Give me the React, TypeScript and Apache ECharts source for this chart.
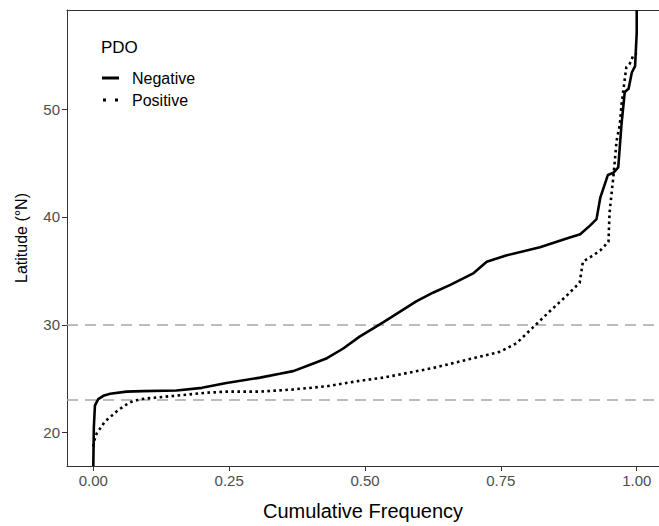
import React, { useEffect, useRef } from "react";
import * as echarts from "echarts";

const negX = [0, 0.001, 0.003, 0.009, 0.02, 0.031, 0.061, 0.091, 0.153, 0.2, 0.245, 0.307, 0.343, 0.368, 0.399, 0.43, 0.46, 0.49, 0.503, 0.534, 0.595, 0.626, 0.657, 0.7, 0.724, 0.761, 0.822, 0.871, 0.896, 0.914, 0.926, 0.933, 0.947, 0.957, 0.966, 0.972, 0.978, 0.985, 0.991, 0.997, 1.0, 1.0];
const negLat = [16.9, 20.5, 22.5, 23.1, 23.45, 23.6, 23.8, 23.85, 23.9, 24.15, 24.6, 25.1, 25.45, 25.7, 26.3, 26.9, 27.8, 28.9, 29.3, 30.25, 32.2, 33.0, 33.7, 34.8, 35.85, 36.45, 37.2, 38.0, 38.4, 39.2, 39.8, 41.8, 43.9, 44.1, 44.6, 48.6, 51.6, 51.9, 53.4, 54.0, 57.1, 59.2];

const posX = [0, 0.002, 0.006, 0.021, 0.046, 0.067, 0.086, 0.147, 0.209, 0.245, 0.307, 0.368, 0.43, 0.49, 0.534, 0.626, 0.687, 0.749, 0.779, 0.81, 0.841, 0.871, 0.895, 0.901, 0.92, 0.933, 0.948, 0.95, 0.957, 0.963, 0.969, 0.972, 0.978, 0.981, 0.987, 0.993, 1.0];
const posLat = [18.7, 19.3, 19.9, 21.0, 22.1, 22.8, 23.1, 23.4, 23.7, 23.8, 23.8, 24.0, 24.3, 24.8, 25.1, 26.0, 26.75, 27.5, 28.3, 29.8, 31.3, 32.7, 33.9, 35.85, 36.45, 36.9, 37.7, 40.4, 43.7, 47.1, 48.6, 50.4, 52.8, 53.9, 54.2, 54.9, 55.2];

const refLines = [23, 30];
const xTicks = [0, 0.25, 0.5, 0.75, 1];
const yTicks = [20, 30, 40, 50];
const seriesNames = ["Negative", "Positive"];

const FONT = "Liberation Sans, Arial, sans-serif";

export default function App() {
  const ref = useRef<HTMLDivElement>(null);
  useEffect(() => {
    if (!ref.current) return;
    const chart = echarts.init(ref.current, undefined, { renderer: "svg" });
    const neg = negX.map((x, i) => [x, negLat[i]]);
    const pos = posX.map((x, i) => [x, posLat[i]]);
    chart.setOption({
      animation: false,
      backgroundColor: "#ffffff",
      title: {
        text: "PDO",
        left: 101,
        top: 39,
        padding: 0,
        textStyle: { fontFamily: FONT, fontSize: 17, fontWeight: "normal", color: "#000" },
      },
      legend: {
        orient: "vertical",
        left: 102,
        top: 70,
        padding: 0,
        itemWidth: 17,
        itemHeight: 3,
        itemGap: 6,
        data: [
          { name: seriesNames[0], icon: "path://M0,0H17V3H0Z" },
          { name: seriesNames[1], icon: "path://M1,0H4V3H1Z M13,0H16V3H13Z M0,0H0.01V0.01H0Z M17,0H16.99V0.01H17Z" },
        ],
        textStyle: { fontFamily: FONT, fontSize: 16, color: "#000", lineHeight: 16, padding: [0, 0, 0, 8] },
      },
      grid: { left: 67, right: 0, top: 10, bottom: 51 },
      xAxis: [
        {
          type: "value",
          min: -0.0484,
          max: 1.041,
          splitLine: { show: false },
          axisLine: { show: true, onZero: false, lineStyle: { color: "#333", width: 1 } },
          axisTick: { show: true, customValues: xTicks, length: 5, lineStyle: { color: "#333" } },
          axisLabel: {
            customValues: xTicks,
            formatter: (v: number) => v.toFixed(2),
            fontFamily: FONT,
            fontSize: 15,
            color: "#4d4d4d",
            margin: 7,
          },
          name: "Cumulative Frequency",
          nameLocation: "middle",
          nameGap: 35,
          nameTextStyle: { fontFamily: FONT, fontSize: 20, color: "#000" },
        },
        {
          type: "value",
          position: "top",
          min: -0.0484,
          max: 1.041,
          splitLine: { show: false },
          axisLine: { show: true, onZero: false, lineStyle: { color: "#333", width: 1 } },
          axisTick: { show: false },
          axisLabel: { show: false },
        },
      ],
      yAxis: {
        type: "value",
        min: 16.9,
        max: 59.2,
        splitLine: { show: false },
        axisLine: { show: true, onZero: false, lineStyle: { color: "#333", width: 1 } },
        axisTick: { show: true, customValues: yTicks, length: 5, lineStyle: { color: "#333" } },
        axisLabel: { customValues: yTicks, fontFamily: FONT, fontSize: 15, color: "#4d4d4d", margin: 7 },
        name: "Latitude (°N)",
        nameLocation: "middle",
        nameGap: 38,
        nameTextStyle: { fontFamily: FONT, fontSize: 16, color: "#000" },
      },
      series: [
        {
          name: seriesNames[0],
          type: "line",
          data: neg,
          symbol: "none",
          color: "#000",
          lineStyle: { color: "#000", width: 2.6 },
          z: 3,
          markLine: {
            silent: true,
            symbol: "none",
            label: { show: false },
            lineStyle: { color: "#a6a6a6", type: [11, 7], width: 1.5 },
            data: refLines.map((v) => ({ yAxis: v })),
            z: 1,
          },
        },
        {
          name: seriesNames[1],
          type: "line",
          data: pos,
          symbol: "none",
          color: "#000",
          lineStyle: { color: "#000", width: 2.6, type: [2.6, 3.4] },
          z: 2,
        },
      ],
    });
    return () => chart.dispose();
  }, []);
  return <div ref={ref} style={{ width: 659, height: 526, position: "fixed", left: 0, top: 0 }} />;
}
